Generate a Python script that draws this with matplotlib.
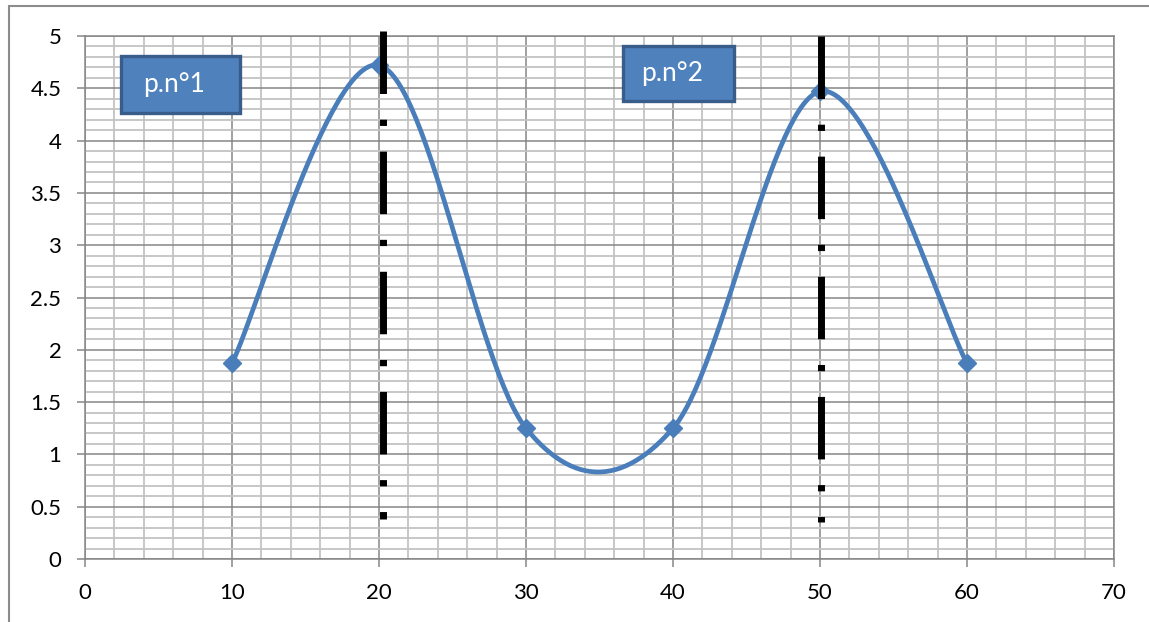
import numpy as np
import matplotlib
matplotlib.use("Agg")
import matplotlib.pyplot as plt
from matplotlib.patches import Rectangle
from matplotlib.ticker import MultipleLocator

plt.rcParams['font.family'] = ['Lato', 'DejaVu Sans']
plt.rcParams['lines.scale_dashes'] = False

# data
x_vals = [10, 20, 30, 40, 50, 60]
y_vals = [1.87, 4.72, 1.25, 1.25, 4.47, 1.87]
vline_x = [20.27, 50.07]
vline_top = [5.05, 5.0]
vline_bottom = [0.38, 0.35]
box_labels = ["p.n°1", "p.n°2"]

W, H = 1149, 622
fig = plt.figure(figsize=(W / 100, H / 100), dpi=100)
ax = fig.add_axes([85 / W, (H - 559) / H, (1114 - 85) / W, (559 - 36) / H])

# smoothed line (Bezier smoothing as in spreadsheet charts)
px = np.array(x_vals, float)
py = np.array(y_vals, float)
pts = np.column_stack([px, py])
curve = []
t = np.linspace(0, 1, 60)
n = len(pts)
for i in range(n - 1):
    p0 = pts[i - 1] if i > 0 else pts[i]
    p1 = pts[i]
    p2 = pts[i + 1]
    p3 = pts[i + 2] if i + 2 < n else pts[i + 1]
    c1 = p1 + (p2 - p0) / 6
    c2 = p2 - (p3 - p1) / 6
    b = ((1 - t) ** 3)[:, None] * p1 + (3 * (1 - t) ** 2 * t)[:, None] * c1 \
        + (3 * (1 - t) * t ** 2)[:, None] * c2 + (t ** 3)[:, None] * p2
    curve.append(b)
curve = np.vstack(curve)

blue = '#4A7EBB'
ax.plot(curve[:, 0], curve[:, 1], color=blue, lw=3.4, zorder=3, solid_capstyle='round')
ax.plot(x_vals, y_vals, linestyle='none', marker='D', markersize=9,
        color=blue, markeredgecolor=blue, zorder=4)

for xv, yt, yb in zip(vline_x, vline_top, vline_bottom):
    ax.plot([xv, xv], [yt, yb], color='black', lw=5.0, zorder=5,
            clip_on=False, dash_capstyle='butt',
            linestyle=(0, (45, 18.5, 4.5, 18.5)))

ax.set_xlim(0, 70)
ax.set_ylim(0, 5)
ax.xaxis.set_major_locator(MultipleLocator(10))
ax.xaxis.set_minor_locator(MultipleLocator(2))
ax.yaxis.set_minor_locator(MultipleLocator(0.1))
ax.set_yticks(np.arange(0, 5.01, 0.5))
ax.set_yticklabels(['0', '0.5', '1', '1.5', '2', '2.5', '3', '3.5', '4', '4.5', '5'])
ax.grid(which='minor', color='#C3C3C3', lw=1.3, zorder=0)
ax.grid(which='major', color='#868686', lw=1.1, zorder=1)
ax.set_axisbelow(True)
ax.tick_params(which='major', length=6, width=1.1, color='#868686',
               labelsize=16, pad=11, labelcolor='black')
ax.tick_params(which='minor', length=0)
for s in ax.spines.values():
    s.set_color('#868686')
    s.set_linewidth(1.1)

# outer chart border (right and bottom edges lie outside the image)
fig.patches.append(Rectangle((9 / W, -0.01), (1160 - 9) / W, (H - 6) / H + 0.01,
                             transform=fig.transFigure, fill=False,
                             edgecolor='#8C8C8C', lw=1.5))

# text boxes
boxes = [(121, 56, 240, 113), (623, 46, 734, 101)]
for (x0, y0, x1, y1), lab in zip(boxes, box_labels):
    fig.patches.append(Rectangle((x0 / W, (H - y1) / H), (x1 - x0) / W, (y1 - y0) / H,
                                 transform=fig.transFigure, facecolor='#4F81BD',
                                 edgecolor='#385D8A', lw=2.4, zorder=6))
    fig.text((x0 + x1) / 2 / W - 6 / W, (H - (y0 + y1) / 2) / H, lab, color='white',
             fontsize=19, ha='center', va='center', zorder=7)

fig.savefig('out.png', dpi=100)
